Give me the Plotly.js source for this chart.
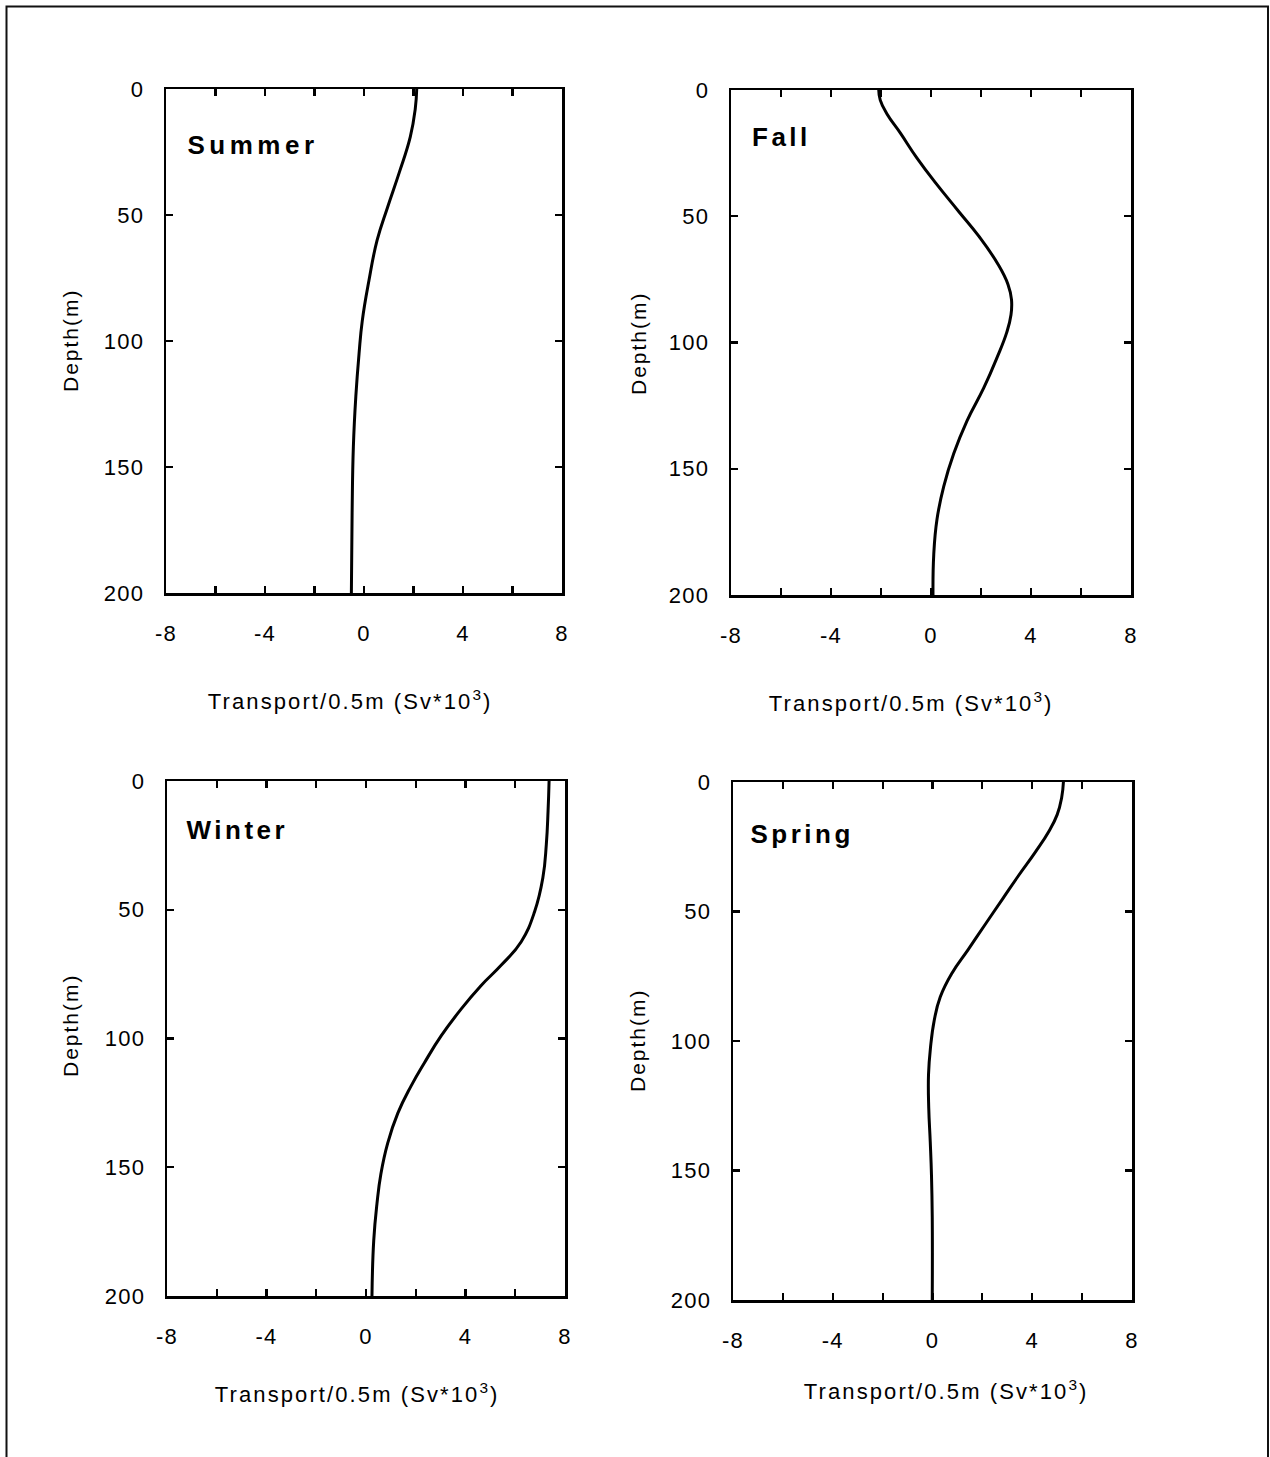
<!DOCTYPE html>
<html>
<head>
<meta charset="utf-8">
<script src="https://cdn.plot.ly/plotly-3.0.1.min.js"></script>
<style>
  html, body { margin: 0; padding: 0; background: #fff; }
  #chart { width: 1270px; height: 1457px; }
  /* season labels (annotations 0-3) and axis titles (4-11) use wide tracking */
  g.annotation[data-index="0"] text { letter-spacing: 4.5px; }
  g.annotation[data-index="1"] text, g.annotation[data-index="2"] text,
  g.annotation[data-index="3"] text { letter-spacing: 3.5px; }
  g.annotation[data-index="4"] text, g.annotation[data-index="5"] text,
  g.annotation[data-index="6"] text, g.annotation[data-index="7"] text { letter-spacing: 2.1px; }
  g.annotation[data-index="8"] text, g.annotation[data-index="9"] text,
  g.annotation[data-index="10"] text, g.annotation[data-index="11"] text { letter-spacing: 2px; }
  g.xtick text, g.ytick text, g.x2tick text, g.y2tick text,
  g.x3tick text, g.y3tick text, g.x4tick text, g.y4tick text { letter-spacing: 1.2px; }
</style>
</head>
<body>
<div id="chart"></div>
<script>
// Transport per 0.5 m layer (Sv*10^3) against depth (m), by season
const depthSummer = [0, 8, 19, 33, 47, 60, 76, 92, 105, 122, 142, 168, 200];
const transportSummer = [2.13, 2.07, 1.87, 1.43, 0.95, 0.53, 0.20, -0.07, -0.20, -0.33, -0.43, -0.48, -0.51];

const depthFall = [0, 4, 9.5, 17, 27, 37, 48, 58, 69, 77, 83, 89, 96, 106, 118, 131, 144, 157, 170, 184, 200];
const transportFall = [-2.09, -2.03, -1.76, -1.23, -0.56, 0.20, 1.10, 1.92, 2.68, 3.08, 3.22, 3.20, 3.03, 2.64, 2.11, 1.44, 0.91, 0.51, 0.24, 0.11, 0.08];

const depthWinter = [0, 11.5, 24.5, 37.6, 50.7, 62.4, 71.5, 79.4, 88.5, 99, 109.4, 118.5, 129, 140.7, 152.5, 164.2, 178.6, 200];
const transportWinter = [7.36, 7.32, 7.25, 7.11, 6.78, 6.24, 5.44, 4.63, 3.83, 3.02, 2.35, 1.81, 1.28, 0.87, 0.60, 0.44, 0.31, 0.24];

const depthSpring = [0, 6, 12.6, 19, 27, 36, 45, 55.6, 64.7, 73.8, 83, 92, 102.5, 113, 126, 139, 152, 168, 200];
const transportSpring = [5.25, 5.18, 5.00, 4.67, 4.13, 3.46, 2.82, 2.07, 1.43, 0.78, 0.31, 0.07, -0.08, -0.16, -0.15, -0.09, -0.04, -0.01, -0.01];

const seasonNames = ['Summer', 'Fall', 'Winter', 'Spring'];
const xTickVals = [-8, -4, 0, 4, 8];
const xTickText = ['-8', '-4', '0', '4', '8'];
const yTickVals = [0, 50, 100, 150, 200];
const xTitle = 'Transport/0.5m (Sv*10<sup>3</sup>)';
const yTitle = 'Depth(m)';

const W = 1270, H = 1457;
const px = v => v / W;
const py = v => 1 - v / H;

// panel boxes in pixels: [left, right, top, bottom]
const boxes = [
  [166, 562, 89, 593],
  [731, 1131, 90, 595],
  [167, 565, 781, 1296],
  [733, 1132, 782, 1300]
];

const seriesX = [transportSummer, transportFall, transportWinter, transportSpring];
const seriesY = [depthSummer, depthFall, depthWinter, depthSpring];

const font = 'Liberation Sans, Arial, Helvetica, sans-serif';
const traces = [];
const layout = {
  width: W, height: H,
  margin: {l: 0, r: 0, t: 0, b: 0},
  paper_bgcolor: '#fff', plot_bgcolor: '#fff',
  showlegend: false,
  font: {family: font, color: '#000', size: 22},
  annotations: [],
  shapes: [{
    type: 'rect', xref: 'paper', yref: 'paper',
    x0: px(6.5), x1: px(1268), y0: -0.05, y1: py(6.5),
    line: {color: '#111', width: 2}, fillcolor: 'rgba(0,0,0,0)'
  }]
};

boxes.forEach((b, i) => {
  const n = i + 1;
  const sfx = n === 1 ? '' : String(n);
  const axCommon = {
    showline: true, linecolor: '#000', linewidth: 2.5, mirror: 'ticks',
    ticks: 'inside', ticklen: 7, tickwidth: 2.2, tickcolor: '#000',
    showgrid: false, zeroline: false, fixedrange: true,
    tickfont: {family: font, size: 22, color: '#000'}
  };
  layout['xaxis' + sfx] = Object.assign({}, axCommon, {
    domain: [px(b[0]), px(b[1])], anchor: 'y' + sfx,
    range: [-8, 8], tickmode: 'array', tickvals: xTickVals, ticktext: xTickText,
    minor: {dtick: 2, tick0: 0, ticks: 'inside', ticklen: 7, tickwidth: 2.2, tickcolor: '#000', showgrid: false},
    ticklabelstandoff: 19
  });
  layout['yaxis' + sfx] = Object.assign({}, axCommon, {
    domain: [py(b[3]), py(b[2])], anchor: 'x' + sfx,
    range: [200, 0], tickmode: 'array', tickvals: yTickVals,
    ticklabelstandoff: 15
  });
  traces.push({
    type: 'scatter', mode: 'lines',
    x: seriesX[i], y: seriesY[i],
    xaxis: 'x' + sfx, yaxis: 'y' + sfx,
    line: {color: '#000', width: 3, shape: 'spline', smoothing: 1.3},
    hoverinfo: 'skip'
  });
});

// season labels
const seasonPos = [[199, 145], [757, 137], [195, 830], [759, 834]];
seasonNames.forEach((s, i) => {
  layout.annotations.push({
    text: '<b>' + s + '</b>', xref: 'paper', yref: 'paper',
    x: px(seasonPos[i][0]), y: py(seasonPos[i][1]),
    xanchor: 'left', yanchor: 'middle', showarrow: false,
    font: {family: font, size: 26, color: '#000'}
  });
});
// x axis titles
const xTitlePos = [[350, 700], [911, 702], [357, 1393], [946, 1390]];
xTitlePos.forEach(p => {
  layout.annotations.push({
    text: xTitle, xref: 'paper', yref: 'paper',
    x: px(p[0]), y: py(p[1]), xanchor: 'center', yanchor: 'middle',
    showarrow: false, font: {family: font, size: 22, color: '#000'}
  });
});
// y axis titles
const yTitlePos = [[70, 340], [638, 343], [70, 1025], [637, 1040]];
yTitlePos.forEach(p => {
  layout.annotations.push({
    text: yTitle, xref: 'paper', yref: 'paper', textangle: -90,
    x: px(p[0]), y: py(p[1]), xanchor: 'center', yanchor: 'middle',
    showarrow: false, font: {family: font, size: 21, color: '#000'}
  });
});

Plotly.newPlot('chart', traces, layout, {displayModeBar: false, staticPlot: true})
  .then(gd => {
    // drop the empty placeholder title nodes of the eight axes
    gd.querySelectorAll('text').forEach(t => {
      if (!t.textContent.trim()) t.remove();
    });
  });
</script>
</body>
</html>
